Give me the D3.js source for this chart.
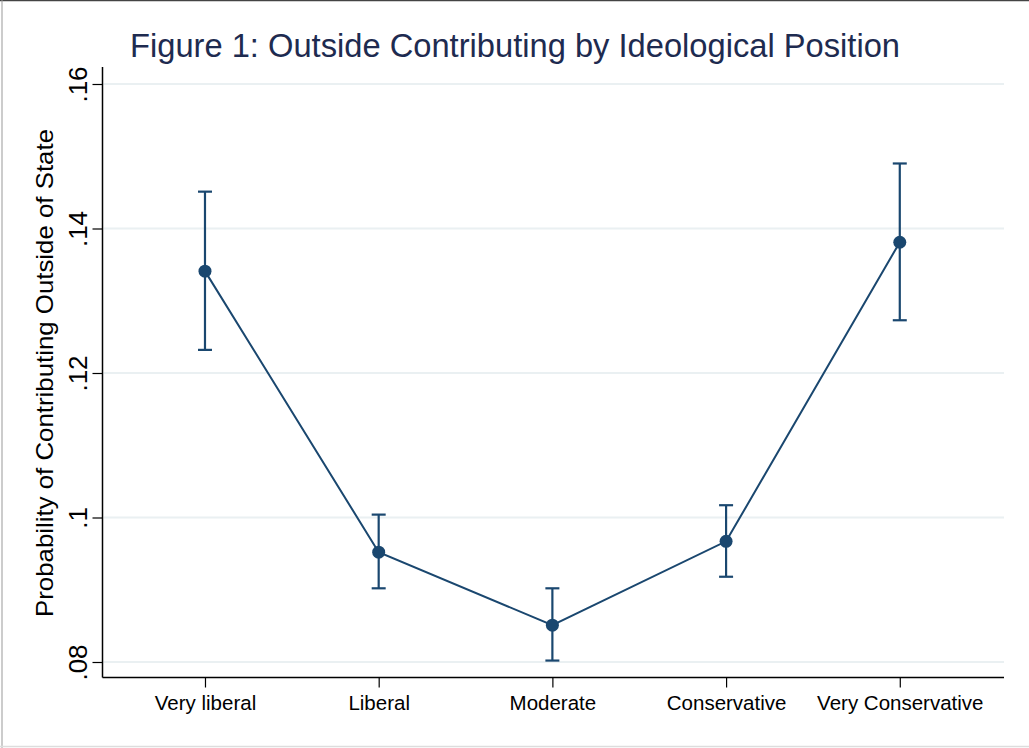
<!DOCTYPE html>
<html>
<head>
<meta charset="utf-8">
<script src="https://cdn.jsdelivr.net/npm/d3@7"></script>
<style>
  body { margin: 0; background: #fff; }
  svg { display: block; font-family: "Liberation Sans", Arial, Helvetica, sans-serif; }
</style>
</head>
<body>
<svg id="chart" width="1029" height="748"></svg>
<script>
// data
const categories = ['Very liberal', 'Liberal', 'Moderate', 'Conservative', 'Very Conservative'];
const estimates = [0.1341, 0.0952, 0.0851, 0.0967, 0.1381];
const lowerCI = [0.1232, 0.0902, 0.0802, 0.0918, 0.1273];
const upperCI = [0.1451, 0.1004, 0.0902, 0.1017, 0.1490];
const yTicks = [0.08, 0.10, 0.12, 0.14, 0.16];
const yTickLabels = ['.08', '.1', '.12', '.14', '.16'];

const W = 1029, H = 748;
const navy = '#1a476f';
const svg = d3.select('#chart');

// frame lines of the exported image
svg.append('line').attr('x1', 0).attr('x2', W).attr('y1', 0.5).attr('y2', 0.5)
  .attr('stroke', '#444').attr('stroke-width', 1.5);
svg.append('line').attr('x1', 2).attr('x2', 2).attr('y1', 0).attr('y2', H)
  .attr('stroke', '#999').attr('stroke-width', 1);
svg.append('line').attr('x1', 0).attr('x2', W).attr('y1', H - 1.5).attr('y2', H - 1.5)
  .attr('stroke', '#ddd').attr('stroke-width', 1.5);

const plotL = 102.5, plotR = 1004, plotT = 67, plotB = 677.5;

const x = d3.scaleLinear().domain([0.41, 5.6]).range([plotL, plotR]);
const y = d3.scaleLinear().domain([0.08, 0.16]).range([662, 84]);

// title
svg.append('text')
  .attr('x', 515).attr('y', 57)
  .attr('text-anchor', 'middle')
  .attr('font-size', 33)
  .attr('fill', '#1e2b50')
  .attr('textLength', 770).attr('lengthAdjust', 'spacingAndGlyphs')
  .text('Figure 1: Outside Contributing by Ideological Position');

// gridlines
svg.append('g').selectAll('line').data(yTicks).join('line')
  .attr('x1', plotL + 1).attr('x2', plotR)
  .attr('y1', d => y(d)).attr('y2', d => y(d))
  .attr('stroke', '#eaf0f2').attr('stroke-width', 2);

// y axis
const yAxis = svg.append('g')
  .attr('transform', `translate(${plotL},0)`)
  .call(d3.axisLeft(y).tickValues(yTicks).tickFormat((d, i) => yTickLabels[i]).tickSize(10).tickPadding(6));
yAxis.select('.domain').attr('d', `M0,${plotT}V${plotB}`).attr('stroke', '#000').attr('stroke-width', 1.5);
yAxis.selectAll('.tick line').attr('stroke', '#000').attr('stroke-width', 1.2);
yAxis.selectAll('.tick text')
  .attr('font-size', 26).attr('fill', '#000')
  .attr('font-family', '"Liberation Sans", Arial, sans-serif')
  .attr('transform', 'rotate(-90)')
  .attr('x', 0).attr('y', -16)
  .attr('dy', 0)
  .attr('text-anchor', 'middle');

// x axis
const xAxis = svg.append('g')
  .attr('transform', `translate(0,${plotB})`)
  .call(d3.axisBottom(x).tickValues([1, 2, 3, 4, 5]).tickFormat((d, i) => categories[i]).tickSize(10).tickPadding(8));
xAxis.select('.domain').attr('d', `M${plotL},0H${plotR}`).attr('stroke', '#000').attr('stroke-width', 1.5);
xAxis.selectAll('.tick line').attr('stroke', '#000').attr('stroke-width', 1.2);
xAxis.selectAll('.tick text')
  .attr('font-size', 20.5).attr('fill', '#000')
  .attr('font-family', '"Liberation Sans", Arial, sans-serif');

// y axis title
svg.append('text')
  .attr('transform', `translate(53,${(y(0.08) + y(0.16)) / 2}) rotate(-90)`)
  .attr('text-anchor', 'middle')
  .attr('font-size', 24.5)
  .attr('fill', '#000')
  .attr('textLength', 488).attr('lengthAdjust', 'spacingAndGlyphs')
  .text('Probability of Contributing Outside of State');

const idx = d3.range(categories.length);

// connecting line
svg.append('path')
  .datum(idx)
  .attr('fill', 'none').attr('stroke', navy).attr('stroke-width', 2)
  .attr('d', d3.line().x(i => x(i + 1)).y(i => y(estimates[i])));

// error bars
const eb = svg.append('g').attr('stroke', navy).attr('stroke-width', 2.2);
eb.selectAll('.bar').data(idx).join('line')
  .attr('x1', i => x(i + 1)).attr('x2', i => x(i + 1))
  .attr('y1', i => y(lowerCI[i])).attr('y2', i => y(upperCI[i]));
eb.selectAll('.capU').data(idx).join('line')
  .attr('x1', i => x(i + 1) - 7).attr('x2', i => x(i + 1) + 7)
  .attr('y1', i => y(upperCI[i])).attr('y2', i => y(upperCI[i]));
eb.selectAll('.capL').data(idx).join('line')
  .attr('x1', i => x(i + 1) - 7).attr('x2', i => x(i + 1) + 7)
  .attr('y1', i => y(lowerCI[i])).attr('y2', i => y(lowerCI[i]));

// points
svg.append('g').selectAll('circle').data(idx).join('circle')
  .attr('cx', i => x(i + 1)).attr('cy', i => y(estimates[i]))
  .attr('r', 6.5).attr('fill', navy);
</script>
</body>
</html>
